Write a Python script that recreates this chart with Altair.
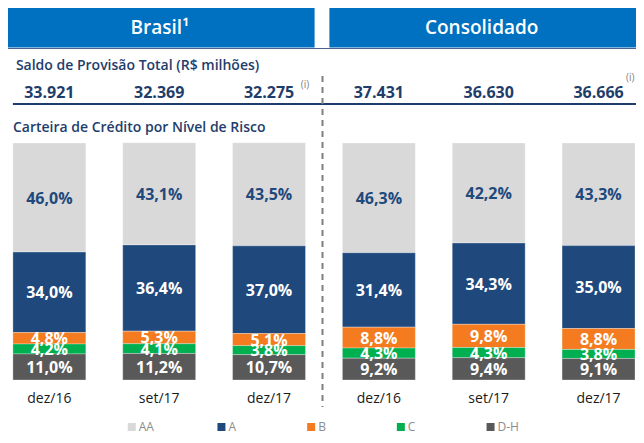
import altair as alt
import pandas as pd

# ---- data ----
groups = ["Brasil", "Brasil", "Brasil", "Consolidado", "Consolidado", "Consolidado"]
periods = ["dez/16", "set/17", "dez/17", "dez/16", "set/17", "dez/17"]
saldo = [33921, 32369, 32275, 37431, 36630, 36666]
risk_levels = ["AA", "A", "B", "C", "D-H"]
aa = [46.0, 43.1, 43.5, 46.3, 42.2, 43.3]
a = [34.0, 36.4, 37.0, 31.4, 34.3, 35.0]
b = [4.8, 5.3, 5.1, 8.8, 9.8, 8.8]
c = [4.2, 4.1, 3.8, 4.3, 4.3, 3.8]
dh = [11.0, 11.2, 10.7, 9.2, 9.4, 9.1]
colors = ["#d9d9d9", "#1f497d", "#f47b20", "#00b050", "#595959"]

FONT = "Open Sans"

# ---- layout helpers (map reference page positions into a 628x427 chart) ----
W, H = 628, 427
SX = W / 637.0


def px(X):
    return round((X - 7) * SX, 1)


def py(Y):
    return Y - 10


keys = [f"{g}|{p}" for g, p in zip(groups, periods)]

rows = []
series = {"AA": aa, "A": a, "B": b, "C": c, "D-H": dh}
stack_rank = {"D-H": 0, "C": 1, "B": 2, "A": 3, "AA": 4}
for i, k in enumerate(keys):
    for lvl in risk_levels:
        v = series[lvl][i]
        rows.append({
            "key": k,
            "level": lvl,
            "value": v,
            "rank": stack_rank[lvl],
            "label": f"{v:.1f}".replace(".", ",") + "%",
        })
df = pd.DataFrame(rows)

top_df = pd.DataFrame({
    "key": keys,
    "period": periods,
    "saldo": [f"{v:,}".replace(",", ".") for v in saldo],
})

xscale = alt.Scale(domain=keys, range=[px(12), px(643)], paddingInner=0.336, paddingOuter=0)
yscale = alt.Scale(domain=[0, 100], range=[py(382), py(145)], nice=False, zero=False)
cscale = alt.Scale(domain=risk_levels, range=colors)

base = alt.Chart(df).transform_stack(
    stack="value", groupby=["key"], as_=["y0", "y1"], sort=[alt.SortField("rank", order="ascending")]
).transform_calculate(mid="(datum.y0 + datum.y1) / 2")

bars = base.mark_bar(stroke="#ffffff", strokeWidth=0.3).encode(
    x=alt.X("key:N", scale=xscale, axis=None),
    y=alt.Y("y0:Q", scale=yscale, axis=None),
    y2="y1:Q",
    color=alt.Color("level:N", scale=cscale, legend=None),
)

labels = base.mark_text(font=FONT, fontSize=16, fontWeight="bold", baseline="middle", dy=1).encode(
    x=alt.X("key:N", scale=xscale, axis=None),
    y=alt.Y("mid:Q", scale=yscale, axis=None),
    text="label:N",
    color=alt.condition(alt.datum.level == "AA", alt.value("#1f497d"), alt.value("#ffffff")),
)

saldo_text = alt.Chart(top_df).mark_text(
    font=FONT, fontSize=16, fontWeight="bold", color="#1f3d6b", baseline="middle"
).encode(
    x=alt.X("key:N", scale=xscale, axis=None),
    y=alt.value(py(95)),
    text="saldo:N",
)

period_text = alt.Chart(top_df).mark_text(
    font=FONT, fontSize=14, color="#1a1a1a", baseline="middle"
).encode(
    x=alt.X("key:N", scale=xscale, axis=None),
    y=alt.value(py(401)),
    text="period:N",
)

# ---- decorations ----
hdr = pd.DataFrame({
    "x": [px(7), px(333)], "x2": [px(318), px(644)],
    "t": ["Brasil¹", "Consolidado"], "cx": [px(161), px(487.5)],
})
header_rect = alt.Chart(hdr).mark_rect(color="#0070c0").encode(
    x=alt.X("x:Q", scale=None), x2="x2:Q", y=alt.value(py(10)), y2=alt.value(py(49.5))
)
header_text = alt.Chart(hdr).mark_text(
    font=FONT, fontSize=19, fontWeight=600, color="#ffffff", baseline="middle"
).encode(x=alt.X("cx:Q", scale=None), y=alt.value(py(30)), text="t:N")

header_line = alt.Chart(hdr.head(1)).mark_rule(color="#4a6490", strokeWidth=1).encode(
    x=alt.value(px(7)), x2=alt.value(W), y=alt.value(py(50.5))
)
blue_rule = alt.Chart(hdr.head(1)).mark_rule(color="#1f3d6b", strokeWidth=2).encode(
    x=alt.value(px(12)), x2=alt.value(W), y=alt.value(py(106))
)
dash_rule = alt.Chart(hdr.head(1)).mark_rule(color="#7f7f7f", strokeWidth=2, strokeDash=[6, 5]).encode(
    x=alt.value(px(326)), y=alt.value(py(78)), y2=alt.value(py(409))
)

titles = pd.DataFrame({
    "t": ["Saldo de Provisão Total (R$ milhões)", "Carteira de Crédito por Nível de Risco"],
    "x": [px(15), px(12)], "y": [py(68), py(130)],
})
title_text = alt.Chart(titles).mark_text(
    font=FONT, fontSize=14, fontWeight=600, color="#1f3d6b", align="left", baseline="middle"
).encode(x=alt.X("x:Q", scale=None), y=alt.Y("y:Q", scale=None), text="t:N")

notes = pd.DataFrame({"t": ["(i)", "(i)"], "x": [px(304), px(634)], "y": [py(87), py(80)]})
note_text = alt.Chart(notes).mark_text(
    font=FONT, fontSize=10, color="#7f7f7f", align="left", baseline="middle"
).encode(x=alt.X("x:Q", scale=None), y=alt.Y("y:Q", scale=None), text="t:N")

# ---- legend ----
LEG_Y = 419
leg_df = pd.DataFrame({"level": risk_levels})
leg_scale = alt.Scale(type="point", domain=risk_levels, range=[px(87), px(542)])
leg_sq = alt.Chart(leg_df).mark_square(size=64, opacity=1).encode(
    x=alt.X("level:N", scale=leg_scale, axis=None),
    y=alt.value(LEG_Y),
    color=alt.Color("level:N", scale=cscale, legend=None),
)
leg_tx = alt.Chart(leg_df).mark_text(
    font=FONT, fontSize=12, color="#8c8c8c", align="left", baseline="middle", dx=7
).encode(
    x=alt.X("level:N", scale=leg_scale, axis=None),
    y=alt.value(LEG_Y),
    text="level:N",
)
legend = alt.layer(leg_sq, leg_tx)

main = alt.layer(bars, labels, saldo_text, period_text)
deco = alt.layer(header_rect, header_line, header_text, blue_rule, dash_rule, title_text, note_text)

chart = alt.layer(deco, main, legend).resolve_scale(x="independent", y="independent").properties(
    width=W, height=H, autosize=alt.AutoSizeParams(type="none"), padding=0
).configure_view(stroke=None)

chart.save("out.html", embed_options={"renderer": "svg", "actions": False})
